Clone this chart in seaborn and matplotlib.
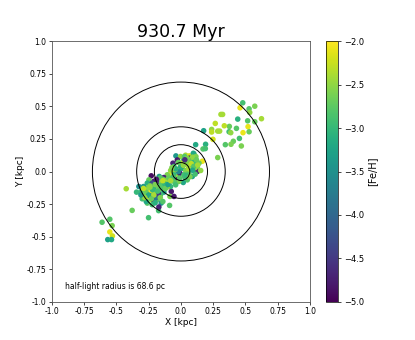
import numpy as np
import pandas as pd
import matplotlib
matplotlib.use("Agg")
import matplotlib.pyplot as plt
import seaborn as sns

# star positions [kpc] and metallicity
x_kpc = [0.479, 0.458, 0.528, 0.572, 0.533, 0.624, 0.572, 0.517, 0.520, 0.528,
         0.481, 0.440, 0.430, 0.375, 0.336, 0.310, 0.323, 0.266, 0.285, 0.300,
         0.238, 0.238, 0.176, 0.373, 0.386, 0.453, 0.406, 0.388, 0.344, 0.468,
         0.248, 0.191, 0.171, 0.189, 0.114, 0.285, 0.166, 0.101,
         -0.424, -0.344, -0.378, -0.251, -0.173, -0.611, -0.551, -0.533, -0.551, -0.531,
         -0.567, -0.538, -0.088,
         -0.039, -0.003, 0.036, 0.065, 0.096, 0.116, 0.140, 0.127, 0.101, 0.067,
         0.096, 0.049, 0.018, -0.028, -0.062, -0.054, -0.016, 0.010, 0.036, 0.062,
         0.088, 0.049, 0.018, -0.028, -0.054, -0.080, -0.093, 0.003, 0.127, 0.153,
         0.075, 0.114, 0.028, -0.008, -0.041, -0.003, 0.023, -0.016,
         -0.106, -0.132, -0.158, -0.119, -0.093, -0.145, -0.184, -0.210, -0.230, -0.248,
         -0.261, -0.223, -0.197, -0.171, -0.075, -0.080, -0.054, -0.106, -0.132, -0.158,
         -0.197, -0.223, -0.248, -0.261, -0.290, -0.300, -0.279, -0.248, -0.230, -0.210,
         -0.184, -0.153, -0.171, -0.197, -0.223, -0.261, -0.241, -0.205, -0.179, -0.140,
         -0.326, -0.313, -0.269, -0.300, -0.106, -0.067, -0.041, -0.223, -0.168, -0.150,
         -0.085, -0.054,
         0.045, 0.080, 0.105, 0.060, 0.020, -0.020, 0.085, 0.110, 0.030, -0.045,
         -0.120, -0.140, -0.190, -0.215, -0.240, -0.270, -0.175, -0.155, -0.125, -0.095,
         0.05, 0.09, 0.12, 0.08, 0.10, 0.06, 0.04, 0.02, -0.02, -0.04,
         0.07, 0.11, 0.13, -0.01, 0.03, 0.09, -0.07, -0.06,
         -0.16, -0.14, -0.20, -0.22, -0.24, -0.27, -0.25, -0.21, -0.18, -0.16,
         -0.20, -0.23, -0.28, -0.12, -0.10, -0.08, -0.19, -0.29, -0.31, -0.14]
y_kpc = [0.527, 0.489, 0.481, 0.501, 0.453, 0.405, 0.382, 0.389, 0.344, 0.305,
         0.298, 0.402, 0.331, 0.346, 0.351, 0.438, 0.438, 0.369, 0.310, 0.310,
         0.323, 0.303, 0.313, 0.305, 0.298, 0.254, 0.232, 0.209, 0.206, 0.196,
         0.247, 0.209, 0.173, 0.176, 0.206, 0.107, 0.079, 0.135,
         -0.132, -0.158, -0.298, -0.354, -0.300, -0.389, -0.366, -0.415, -0.463, -0.494,
         -0.522, -0.522, -0.260,
         0.120, 0.115, 0.125, 0.120, 0.140, 0.115, 0.064, 0.038, 0.013, 0.102,
         0.084, 0.064, 0.081, 0.089, 0.064, 0.038, 0.020, 0.025, 0.008, -0.013,
         -0.038, -0.064, -0.084, -0.038, -0.013, 0.008, -0.025, 0.064, 0.000, 0.008,
         0.051, 0.059, 0.115, -0.013, -0.064, 0.038, -0.025, -0.076,
         -0.025, -0.046, -0.064, -0.076, -0.089, -0.102, -0.089, -0.076, -0.033, -0.064,
         -0.089, -0.115, -0.127, -0.140, -0.153, -0.115, -0.076, -0.120, -0.158, -0.178,
         -0.191, -0.165, -0.153, -0.127, -0.115, -0.140, -0.178, -0.203, -0.216, -0.229,
         -0.216, -0.242, -0.272, -0.203, -0.254, -0.242, -0.186, -0.148, -0.115, -0.127,
         -0.115, -0.160, -0.229, -0.209, -0.064, -0.051, -0.102, -0.089, -0.038, -0.084,
         -0.191, -0.191,
         0.095, 0.075, 0.090, 0.030, 0.050, 0.000, 0.030, 0.030, -0.045, 0.015,
         -0.100, -0.060, -0.150, -0.130, -0.110, -0.170, -0.170, -0.110, -0.095, -0.050,
         0.10, 0.11, 0.09, 0.06, 0.04, 0.02, -0.03, 0.05, 0.07, 0.02,
         -0.04, -0.02, 0.05, -0.05, 0.09, 0.01, 0.03, -0.04,
         -0.05, -0.07, -0.10, -0.14, -0.12, -0.16, -0.18, -0.18, -0.15, -0.20,
         -0.24, -0.21, -0.20, -0.13, -0.10, -0.07, -0.06, -0.13, -0.18, -0.23]
fe_h = [-2.9, -2.1, -2.8, -2.6, -2.5, -2.4, -2.7, -2.8, -2.1, -2.7,
        -2.1, -3.1, -2.8, -2.7, -2.3, -2.4, -2.4, -2.3, -2.4, -2.4,
        -2.5, -2.3, -3.3, -2.9, -2.5, -2.9, -2.7, -2.6, -2.8, -2.6,
        -2.2, -3.1, -2.8, -2.9, -3.2, -2.6, -2.1, -3.0,
        -2.4, -3.0, -2.7, -2.9, -2.9, -2.8, -2.8, -2.6, -2.1, -2.2,
        -3.3, -3.2, -2.8,
        -3.4, -2.5, -2.4, -2.2, -3.2, -2.6, -2.7, -2.8, -2.7, -4.8,
        -2.9, -2.6, -3.0, -4.8, -4.7, -2.9, -2.1, -3.2, -2.6, -2.8,
        -3.3, -2.8, -3.2, -2.5, -3.0, -2.5, -2.2, -2.3, -4.7, -2.5,
        -2.5, -2.9, -2.8, -4.8, -4.9, -3.1, -2.9, -2.6,
        -2.6, -4.7, -2.5, -2.2, -2.9, -3.8, -4.6, -4.8, -4.9, -2.7,
        -3.1, -2.4, -3.0, -2.6, -4.8, -3.0, -2.8, -2.5, -3.3, -2.9,
        -3.4, -2.3, -2.1, -2.5, -3.4, -2.8, -2.7, -2.2, -2.0, -4.8,
        -2.8, -3.4, -4.7, -3.9, -2.9, -2.8, -4.0, -2.6, -2.7, -2.9,
        -3.5, -3.0, -3.2, -2.9, -2.4, -2.8, -2.9, -4.3, -3.3, -2.6,
        -2.6, -4.8,
        -2.4, -2.7, -3.0, -2.5, -2.2, -3.6, -2.8, -2.5, -2.9, -2.4,
        -2.3, -2.7, -2.5, -3.1, -2.6, -2.4, -4.5, -2.8, -3.0, -2.7,
        -2.6, -2.5, -2.7, -2.3, -2.8, -2.4, -3.0, -2.5, -2.7, -3.1,
        -2.6, -2.9, -2.4, -2.8, -4.6, -3.2, -2.6, -2.9,
        -2.8, -2.3, -2.6, -3.0, -2.5, -2.7, -3.2, -2.4, -2.9, -2.6,
        -3.1, -2.7, -2.5, -2.7, -3.3, -2.4, -4.8, -2.3, -3.4, -2.8]

r_half = 0.0686  # kpc
ring_factors = [1, 3, 5, 10]
ticks = [-1.0, -0.75, -0.5, -0.25, 0.0, 0.25, 0.5, 0.75, 1.0]
tick_labels = ["-1.0", "-0.75", "-0.5", "-0.25", "0.0", "0.25", "0.5", "0.75", "1.0"]

df = pd.DataFrame({"x": x_kpc, "y": y_kpc, "feh": fe_h})

fig = plt.figure(figsize=(4.15, 3.4), dpi=100)
ax = fig.add_axes([0.125, 0.112, 0.622, 0.767])
cax = fig.add_axes([0.786, 0.112, 0.029, 0.767])

sns.scatterplot(data=df, x="x", y="y", hue="feh", palette="viridis",
                hue_norm=(-5, -2), s=16, linewidth=0, legend=False, ax=ax)

for f in ring_factors:
    ax.add_patch(plt.Circle((0, 0), f * r_half, fill=False, color="black", lw=0.7))

ax.set_xlim(-1, 1)
ax.set_ylim(-1, 1)
ax.set_xticks(ticks)
ax.set_xticklabels(tick_labels)
ax.set_yticks(ticks)
ax.set_yticklabels(tick_labels)
ax.tick_params(labelsize=5.5, length=2.5, width=0.5, pad=1.5)
for sp in ax.spines.values():
    sp.set_linewidth(0.6)
    sp.set_color("#555555")
ax.set_xlabel("X [kpc]", fontsize=6.5, labelpad=1)
ax.set_ylabel("Y [kpc]", fontsize=6.5, labelpad=1)
ax.set_title("930.7 Myr", fontsize=12.5, pad=2)
ax.text(-0.9, -0.878, "half-light radius is 68.6 pc", fontsize=5.5, va="center")

sm = plt.cm.ScalarMappable(cmap="viridis", norm=plt.Normalize(-5, -2))
cb = fig.colorbar(sm, cax=cax)
cb.set_ticks([-5.0, -4.5, -4.0, -3.5, -3.0, -2.5, -2.0])
cb.ax.tick_params(labelsize=6, length=2.5, width=0.5, pad=1.5)
cb.outline.set_linewidth(0.5)
cb.set_label("[Fe/H]", fontsize=7, labelpad=2)

fig.savefig("out.png", dpi=100)
